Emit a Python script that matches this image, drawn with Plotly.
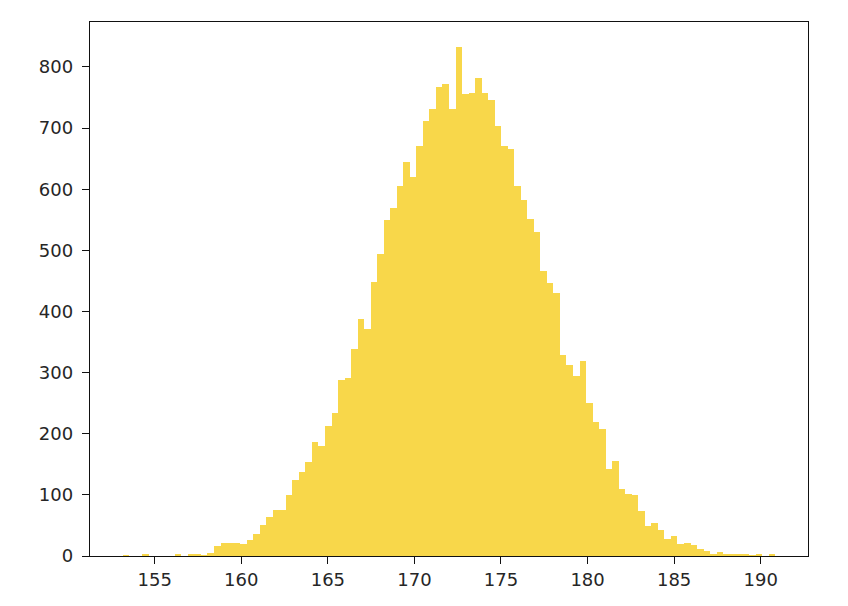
import plotly.graph_objects as go

# Histogram: 100 equal-width bins
bin_start = 153.147
bin_width = 0.377
counts = [
    1, 0, 0, 3, 0, 0, 0, 0, 2, 0,
    3, 3, 1, 5, 17, 22, 21, 22, 20, 27,
    36, 50, 63, 76, 76, 100, 125, 138, 154, 187,
    180, 213, 234, 288, 291, 338, 387, 371, 449, 494,
    550, 569, 605, 645, 620, 671, 711, 732, 767, 772,
    732, 832, 756, 758, 782, 758, 746, 703, 671, 666,
    605, 583, 552, 530, 466, 446, 430, 329, 312, 294,
    319, 250, 220, 208, 143, 156, 109, 102, 100, 74,
    49, 54, 42, 28, 33, 19, 21, 18, 11, 9,
    2, 6, 4, 4, 2, 2, 1, 2, 0, 2,
]
x_ticks = [155, 160, 165, 170, 175, 180, 185, 190]
y_ticks = [0, 100, 200, 300, 400, 500, 600, 700, 800]

n = len(counts)
centers = [bin_start + (i + 0.5) * bin_width for i in range(n)]
lo = bin_start
hi = bin_start + n * bin_width
span = hi - lo
xr = [lo - 0.05 * span, hi + 0.05 * span]
yr = [0, 1.05 * max(counts)]

fig = go.Figure(go.Bar(
    x=centers, y=counts, width=bin_width,
    marker=dict(color="#F8D74A", line=dict(width=0)),
    hoverinfo="x+y",
))

axis_common = dict(
    showgrid=False, zeroline=False, showline=True, mirror=True,
    linecolor="#111111", linewidth=1.4,
    ticks="outside", ticklen=7, tickwidth=1.4, tickcolor="#111111",
    tickfont=dict(family="DejaVu Sans", size=18, color="#262626"),
)
fig.update_xaxes(range=xr, tickvals=x_ticks, ticktext=[str(v) for v in x_ticks],
                 ticklabelstandoff=0, **axis_common)
fig.update_yaxes(range=yr, tickvals=y_ticks, ticktext=[str(v) for v in y_ticks],
                 ticklabelstandoff=5, **axis_common)

# page body has an 8px default margin, so size/margins compensate for it
fig.update_layout(
    width=840, height=598,
    margin=dict(l=82, r=40, t=14, b=50),
    plot_bgcolor="white", paper_bgcolor="white",
    bargap=0, showlegend=False,
)

fig.write_html("out.html")
